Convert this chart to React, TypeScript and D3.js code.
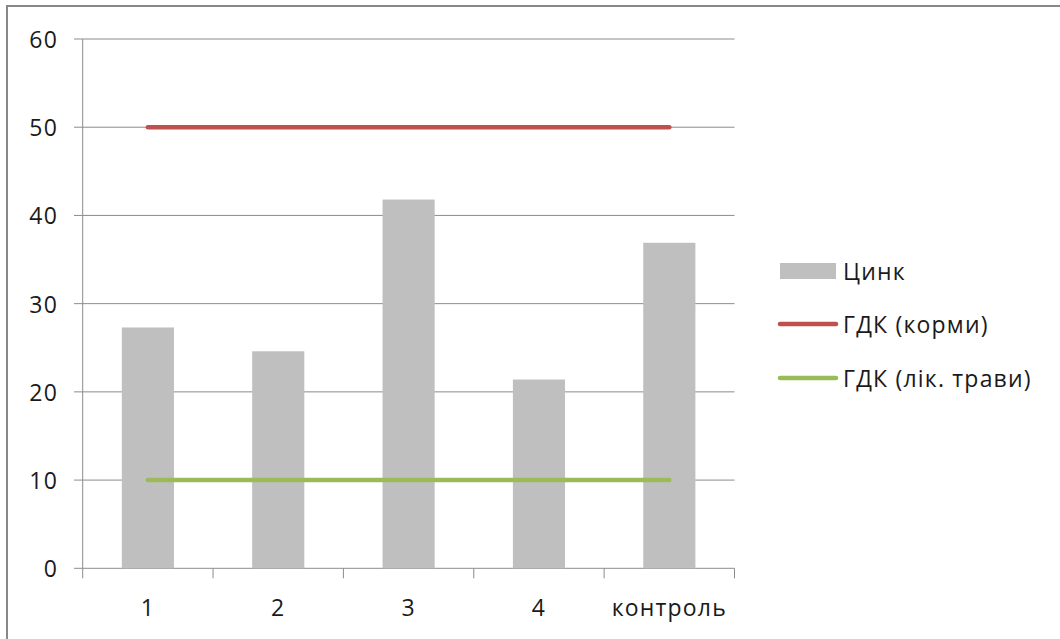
import React from "react";
import * as d3 from "d3";

const categories = ["1", "2", "3", "4", "контроль"];
const zincValues = [27.3, 24.6, 41.8, 21.4, 36.9];
const limitFeed = [50, 50, 50, 50, 50];
const limitHerbs = [10, 10, 10, 10, 10];
const yTicks = [0, 10, 20, 30, 40, 50, 60];
const legendLabels = ["Цинк", "ГДК (корми)", "ГДК (лік. трави)"];

const W = 1060;
const H = 639;
const FONT = "'Open Sans', 'DejaVu Sans', sans-serif";
const FS = 23;
const LS = 1.2;

export default function App() {
  const left = 82.7;
  const right = 734.5;
  const top = 39;
  const bottom = 568.3;

  const x = d3.scaleBand<string>().domain(categories).range([left, right]).paddingInner(0.6).paddingOuter(0.3);
  const step = (right - left) / categories.length;
  const y = d3.scaleLinear().domain([0, 60]).range([bottom, top]);

  const center = (c: string) => (x(c) as number) + x.bandwidth() / 2;
  const line = d3
    .line<number>()
    .x((_, i) => center(categories[i]))
    .y((d) => y(d));

  const gridColor = "#8c8c8c";
  const textColor = "#1a1a1a";

  return (
    <svg width={W} height={H} style={{ position: "fixed", left: 0, top: 0 }} fontFamily={FONT}>
      <rect x={0} y={0} width={W} height={H} fill="#fff" />
      <rect x={7} y={6} width={W + 10} height={H + 10} fill="#fff" stroke="#888" strokeWidth={2} />
      {yTicks.map((t) => (
        <g key={t}>
          <line x1={74} x2={right} y1={y(t)} y2={y(t)} stroke={gridColor} strokeWidth={1} />
          <text x={58} y={y(t)} textAnchor="end" dominantBaseline="central" fontSize={FS} letterSpacing={LS} fill={textColor}>
            {t}
          </text>
        </g>
      ))}
      <line x1={left} x2={left} y1={top} y2={bottom} stroke={gridColor} strokeWidth={1} />
      {d3.range(categories.length + 1).map((i) => (
        <line key={i} x1={left + i * step} x2={left + i * step} y1={bottom} y2={bottom + 10} stroke={gridColor} strokeWidth={1} />
      ))}
      {categories.map((c, i) => (
        <rect key={c} x={x(c)} y={y(zincValues[i])} width={x.bandwidth()} height={bottom - y(zincValues[i])} fill="#BFBFBF" />
      ))}
      <path d={line(limitFeed) as string} fill="none" stroke="#C0504D" strokeWidth={4.5} strokeLinecap="round" />
      <path d={line(limitHerbs) as string} fill="none" stroke="#9BBB59" strokeWidth={4.5} strokeLinecap="round" />
      {categories.map((c) => (
        <text key={c} x={center(c)} y={607} textAnchor="middle" dominantBaseline="central" fontSize={FS} letterSpacing={LS} fill={textColor}>
          {c}
        </text>
      ))}
      <g>
        <rect x={780} y={263} width={56} height={16} fill="#BFBFBF" />
        <text x={843} y={271} dominantBaseline="central" fontSize={FS} letterSpacing={LS} fill={textColor}>{legendLabels[0]}</text>
        <line x1={780} x2={836} y1={324} y2={324} stroke="#C0504D" strokeWidth={4.5} strokeLinecap="round" />
        <text x={843} y={324} dominantBaseline="central" fontSize={FS} letterSpacing={LS} fill={textColor}>{legendLabels[1]}</text>
        <line x1={780} x2={836} y1={378} y2={378} stroke="#9BBB59" strokeWidth={4.5} strokeLinecap="round" />
        <text x={843} y={378} dominantBaseline="central" fontSize={FS} letterSpacing={LS} fill={textColor}>{legendLabels[2]}</text>
      </g>
    </svg>
  );
}
